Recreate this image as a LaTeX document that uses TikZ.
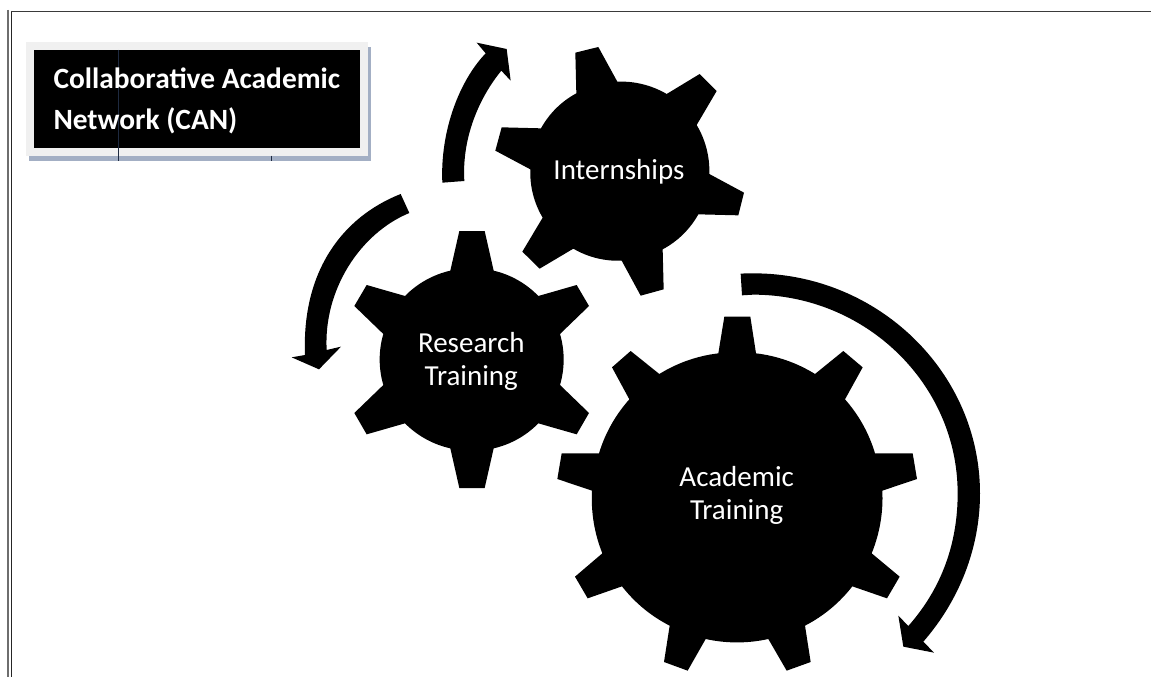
\documentclass[tikz,border=0pt]{standalone}
\usepackage{fontspec}
\setmainfont{Carlito}
\definecolor{panelgray}{HTML}{F0F0F0}
\definecolor{shadowblue}{HTML}{A3AFC4}
\definecolor{seamdark}{HTML}{1E2A40}
\definecolor{rulea}{HTML}{6E6E6E}
\definecolor{ruleb}{HTML}{262626}
\definecolor{rulec}{HTML}{3A3A3A}
\tikzset{
  solid black/.style={fill=black,draw=none},
  geartext/.style={text=white,align=center,inner sep=0pt,font=\fontsize{29}{33}\selectfont},
  titletext/.style={text=white,align=left,inner sep=0pt,font=\fontsize{29.4}{41}\selectfont\bfseries},
  zoomA/.style={shift={(280,30)},x=0.33333pt,y=-0.33333pt},
  zoomB/.style={shift={(540,260)},x=0.33333pt,y=-0.33333pt},
  zoomC/.style={shift={(340,220)},x=0.33333pt,y=-0.33333pt},
  rimS/.style={bend left=12.4,looseness=.87},
  rimL/.style={bend left=16.4,looseness=.87},
}
\begin{document}
\begin{tikzpicture}[x=1pt,y=-1pt]
\useasboundingbox (0,0) rectangle (1151,677);
\fill[white] (0,0) rectangle (1151,677);
% page border
\draw[rulea,line width=2pt] (8,10) -- (8,677);
\draw[ruleb,line width=1.7pt] (11.5,11) -- (11.5,677);
\draw[rulec,line width=1.6pt] (11,11.7) -- (1151,11.7);
% title box
\fill[shadowblue] (29,47) rectangle (371,161.3);
\fill[panelgray] (26,42) rectangle (368,155.7);
\fill[black] (33.7,50) rectangle (360,147.7);
\draw[seamdark,line width=0.3pt] (118.3,50) -- (118.3,161.3);
\draw[seamdark,line width=0.3pt] (271.3,155.7) -- (271.3,161.3);
\node[titletext,anchor=west] (title) at (53.3,100.5) {Collaborative Academic\\Network (CAN)};
% Academic gear
\begin{scope}[zoomB]
\fill[solid black] (535,280)--(553,170)--(631,170)--(648,280)
 to[rimS] (825,342)--(910,273)--(968,322)--(915,418)
 to[rimS] (1005,580)--(1118,580)--(1131,657)--(1027,692)
 to[rimS] (995,880)--(1079,950)--(1041,1015)--(937,979)
 to[rimS] (795,1097)--(812,1206)--(740,1232)--(685,1137)
 to[rimS] (497,1137)--(443,1232)--(372,1206)--(389,1097)
 to[rimS] (246,979)--(143,1015)--(105,950)--(187,880)
 to[rimS] (156,692)--(52,657)--(65,580)--(177,580)
 to[rimS] (268,418)--(216,322)--(272,273)--(358,342)
 to[rimS] (535,280)--cycle;
% long arrow
\fill[solid black] (602,41) .. controls (615,40) and (628,40) .. (640,40)
  .. controls (1014,40) and (1320,337) .. (1320,700)
  .. controls (1320,864) and (1258,1021) .. (1150,1145)
  -- (1182,1178) -- (1090,1160) -- (1075,1067) -- (1105,1098)
  .. controls (1205,985) and (1253,850) .. (1253,700)
  .. controls (1253,372) and (977,104) .. (640,104)
  -- (606,106) -- cycle;
\end{scope}
% Internships gear
\begin{scope}[zoomA]
\fill[solid black] (889,190)--(886,68)--(955,51)--(1012,155)
 to[rimL] (1160,192)--(1259,132)--(1310,183)--(1250,285)
 to[rimL] (1288,432)--(1392,488)--(1375,556)--(1255,553)
 to[rimL] (1148,658)--(1151,778)--(1082,797)--(1025,692)
 to[rimL] (880,656)--(779,716)--(727,665)--(788,563)
 to[rimL] (751,418)--(646,362)--(665,292)--(783,295)
 to[rimL] (889,190)--cycle;
% up arrow
\fill[solid black] (487,458) .. controls (480,300) and (540,150) .. (617,70)
  -- (590,38) -- (680,57) -- (692,152) -- (664,122)
  .. controls (600,200) and (545,320) .. (553,453) -- cycle;
% left arrow
\fill[solid black] (362,492) .. controls (190,560) and (65,720) .. (75,975)
  -- (35,982) -- (117,1018) -- (183,950) -- (140,960)
  .. controls (130,780) and (240,610) .. (388,549) -- cycle;
\end{scope}
% Research gear
\begin{scope}[zoomC]
\fill[solid black] (331,152)--(358,33)--(434,33)--(461,152)
 to[rimL] (595,228)--(710,195)--(747,258)--(660,342)
 to[rimL] (660,495)--(747,579)--(710,643)--(595,610)
 to[rimL] (461,685)--(434,804)--(358,804)--(331,685)
 to[rimL] (195,610)--(80,643)--(43,579)--(130,495)
 to[rimL] (130,342)--(43,258)--(80,195)--(195,228)
 to[rimL] (331,152)--cycle;
\end{scope}
% labels
\node[geartext] (internships) at (619,172) {Internships};
\node[geartext] (research) at (471.3,361) {Research\\Training};
\node[geartext] (academic) at (736.7,495.5) {Academic\\Training};
\end{tikzpicture}
\end{document}
